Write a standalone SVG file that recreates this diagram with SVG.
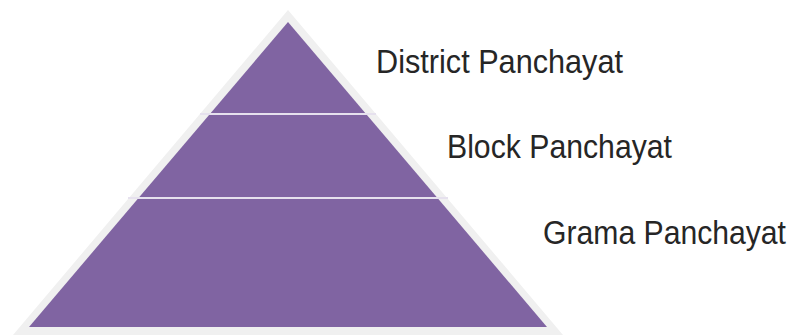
<svg xmlns="http://www.w3.org/2000/svg" width="793" height="336" viewBox="0 0 793 336">
  <style>
    .tier { fill: #8064a2; }
    .label { font-family: "Liberation Sans", Arial, sans-serif; font-size: 33px; fill: #262626; }
    .sep { stroke: #e6e1ee; stroke-width: 2; fill: none; }
  </style>
  <rect width="793" height="336" fill="#ffffff"/>
  <polygon id="frame" points="288,10 13,335 563,335" fill="#f0f0f0"/>
  <g id="district">
    <polygon class="tier" points="288,22 209.9,114 366.1,114"/>
    <text class="label" x="376" y="73" textLength="247" lengthAdjust="spacingAndGlyphs">District Panchayat</text>
  </g>
  <g id="block">
    <polygon class="tier" points="209.9,114 366.1,114 437.5,198 138.5,198"/>
    <text class="label" x="447" y="158" textLength="225" lengthAdjust="spacingAndGlyphs">Block Panchayat</text>
  </g>
  <g id="grama">
    <polygon class="tier" points="138.5,198 437.5,198 547,327 29,327"/>
    <text class="label" x="543" y="244" textLength="243" lengthAdjust="spacingAndGlyphs">Grama Panchayat</text>
  </g>
  <g id="connectors">
    <line class="sep" x1="200" y1="114" x2="376" y2="114"/>
    <line class="sep" x1="128" y1="198" x2="448" y2="198"/>
  </g>
</svg>
